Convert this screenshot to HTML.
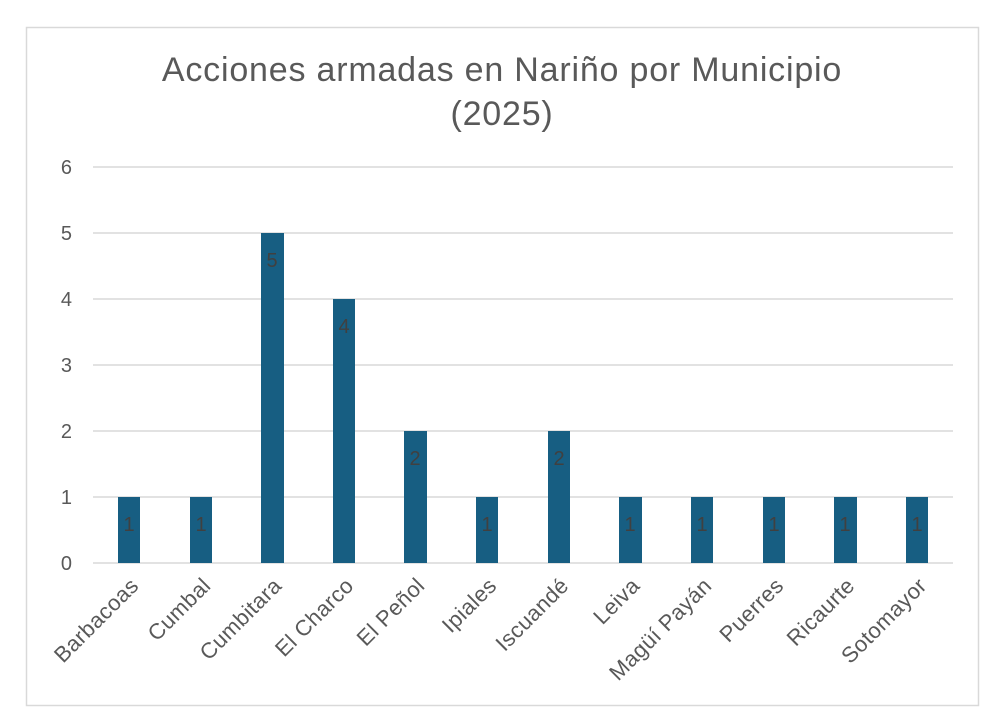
<!DOCTYPE html>
<html><head><meta charset="utf-8"><style>
html,body{margin:0;padding:0;background:#fff;}
svg{display:block;font-family:"Liberation Sans",sans-serif;}
</style></head><body>
<svg width="1004" height="716" viewBox="0 0 1004 716">
<rect x="0" y="0" width="1004" height="716" fill="#fff"/>
<rect x="26.5" y="27.5" width="952" height="678" fill="#fff" stroke="#d9d9d9" stroke-width="1.5"/>
<text x="502" y="81" text-anchor="middle" font-size="34" fill="#595959" letter-spacing="0.8">Acciones armadas en Nariño por Municipio</text>
<text x="502" y="125" text-anchor="middle" font-size="34" fill="#595959" letter-spacing="0.8">(2025)</text>
<g stroke="#d9d9d9" stroke-width="1.5">
<line x1="93" x2="953" y1="167" y2="167"/>
<line x1="93" x2="953" y1="233" y2="233"/>
<line x1="93" x2="953" y1="299" y2="299"/>
<line x1="93" x2="953" y1="365" y2="365"/>
<line x1="93" x2="953" y1="431" y2="431"/>
<line x1="93" x2="953" y1="497" y2="497"/>
<line x1="93" x2="953" y1="563" y2="563"/>
</g>
<g font-size="20" fill="#595959" text-anchor="end">
<text x="72" y="174">6</text><text x="72" y="240">5</text><text x="72" y="306">4</text>
<text x="72" y="372">3</text><text x="72" y="438">2</text><text x="72" y="504">1</text><text x="72" y="570">0</text>
</g>
<g fill="#175e82">
<rect x="118" y="497" width="22" height="66"/>
<rect x="190" y="497" width="22" height="66"/>
<rect x="261" y="233" width="23" height="330"/>
<rect x="333" y="299" width="22" height="264"/>
<rect x="404" y="431" width="23" height="132"/>
<rect x="476" y="497" width="22" height="66"/>
<rect x="548" y="431" width="22" height="132"/>
<rect x="619" y="497" width="23" height="66"/>
<rect x="691" y="497" width="22" height="66"/>
<rect x="763" y="497" width="22" height="66"/>
<rect x="834" y="497" width="23" height="66"/>
<rect x="906" y="497" width="22" height="66"/>
</g>
<g font-size="20" fill="#404040" text-anchor="middle">
<text x="129" y="531">1</text><text x="201" y="531">1</text><text x="272" y="267">5</text>
<text x="344" y="333">4</text><text x="415" y="465">2</text><text x="487" y="531">1</text>
<text x="559" y="465">2</text><text x="630" y="531">1</text><text x="702" y="531">1</text>
<text x="774" y="531">1</text><text x="845" y="531">1</text><text x="917" y="531">1</text>
</g>
<g font-size="22" fill="#595959" text-anchor="end" letter-spacing="0.4">
<text transform="translate(140,587) rotate(-45)">Barbacoas</text>
<text transform="translate(212,587) rotate(-45)">Cumbal</text>
<text transform="translate(283,587) rotate(-45)">Cumbitara</text>
<text transform="translate(355,587) rotate(-45)">El Charco</text>
<text transform="translate(426,587) rotate(-45)">El Peñol</text>
<text transform="translate(498,587) rotate(-45)">Ipiales</text>
<text transform="translate(570,587) rotate(-45)">Iscuandé</text>
<text transform="translate(641,587) rotate(-45)">Leiva</text>
<text transform="translate(713,587) rotate(-45)">Magüí Payán</text>
<text transform="translate(785,587) rotate(-45)">Puerres</text>
<text transform="translate(856,587) rotate(-45)">Ricaurte</text>
<text transform="translate(928,587) rotate(-45)">Sotomayor</text>
</g>
</svg>
</body></html>
